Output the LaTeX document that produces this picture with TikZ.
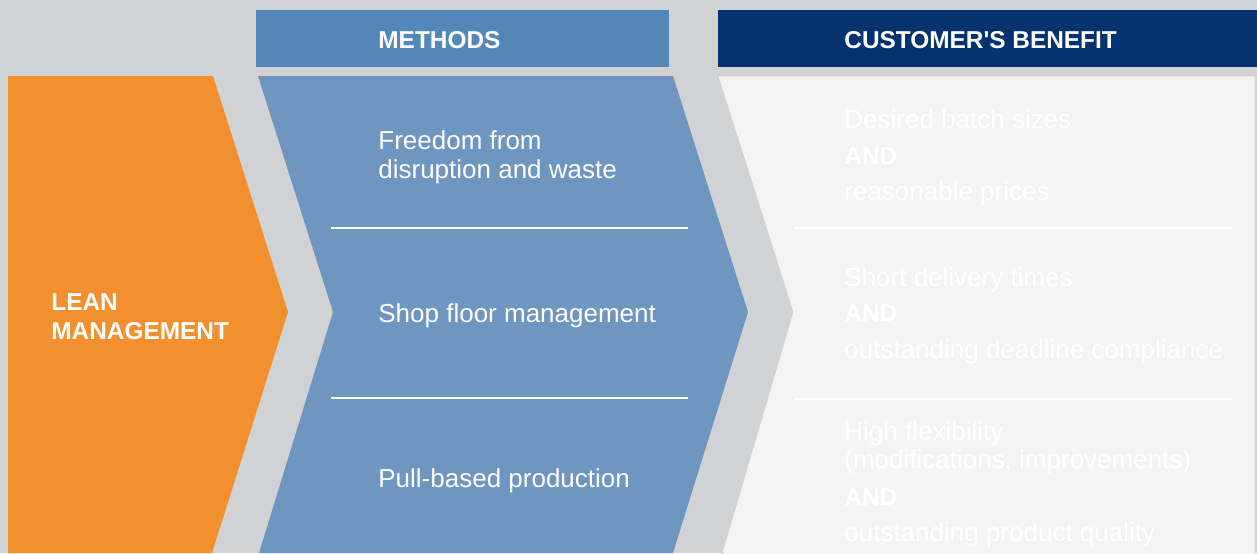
\documentclass[tikz,border=0pt]{standalone}
\usepackage{fontspec}
\setmainfont{Liberation Sans}
\usepackage{xcolor}
\definecolor{bggray}{HTML}{D1D2D4}
\definecolor{leanorange}{HTML}{F2902F}
\definecolor{methodhead}{HTML}{5487B9}
\definecolor{methodfill}{HTML}{6F95C1}
\definecolor{benefithead}{HTML}{06336F}
\definecolor{benefitfill}{HTML}{F4F4F4}
\usetikzlibrary{positioning}
\tikzset{x=0.5pt, y=-0.5pt,
  txt/.style={anchor=base west, inner sep=0pt, text=white, font=\fontsize{13}{15}\selectfont},
  headtxt/.style={txt, font=\fontsize{12.2}{15}\selectfont\bfseries},
  divider/.style={white, line width=1pt},
}

\begin{document}
\begin{tikzpicture}
        % Draw the gray background
        \fill[bggray] (0,0) rectangle (1257,553);
        \useasboundingbox (0,0) rectangle (1257,553);

        % Draw the two header bars
        \fill[methodhead] (256,10) rectangle (669,67);
        \fill[benefithead] (718,10) rectangle (1257,67);
        \node[headtxt] (methods) at (378,48) {METHODS};
        \node[headtxt] (benefit) at (844,48) {CUSTOMER\textquotesingle S BENEFIT};

        % Draw the orange chevron
        \fill[leanorange] (8,76) -- (213,76) -- (288,312) -- (212,553) -- (8,553) -- cycle;
        \node[headtxt] (lean) at (51,310) {LEAN};
        \node[headtxt] (management) at (51,339) {MANAGEMENT};

        % Draw the blue chevron with its methods
        \fill[methodfill] (258,76) -- (673,76) -- (748,312) -- (673,553) -- (259,553) -- (333,312) -- cycle;
        \draw[divider] (331,228) -- (688,228);
        \draw[divider] (331,398) -- (688,398);
        \node[txt] (freedom) at (378,149.5) {Freedom from};
        \node[txt] (waste) at (378,178) {disruption and waste};
        \node[txt] (shopfloor) at (378,322) {Shop floor management};
        \node[txt] (pull) at (378,487) {Pull-based production};

        % Draw the light panel with the benefits
        \fill[benefitfill, draw=black!18, line width=0.4pt] (718,76) -- (1255,76) -- (1255,560) -- (720,560) -- (793,312) -- cycle;
        \draw[divider] (794,228) -- (1232,228);
        \draw[divider] (794,399) -- (1232,399);
        \node[txt] (batch) at (844,128) {Desired batch sizes};
        \node[headtxt] (and1) at (844,164) {AND};
        \node[txt] (prices) at (844,200.5) {reasonable prices};
        \node[txt] (delivery) at (844,286) {Short delivery times};
        \node[headtxt] (and2) at (844,321.5) {AND};
        \node[txt] (deadline) at (844,358) {outstanding deadline compliance};
        \node[txt] (flexibility) at (844,440) {High flexibility};
        \node[txt] (modifications) at (844,468) {(modifications, improvements)};
        \node[headtxt] (and3) at (844,505) {AND};
        \node[txt] (quality) at (844,541.5) {outstanding product quality};
    \end{tikzpicture}
\end{document}
